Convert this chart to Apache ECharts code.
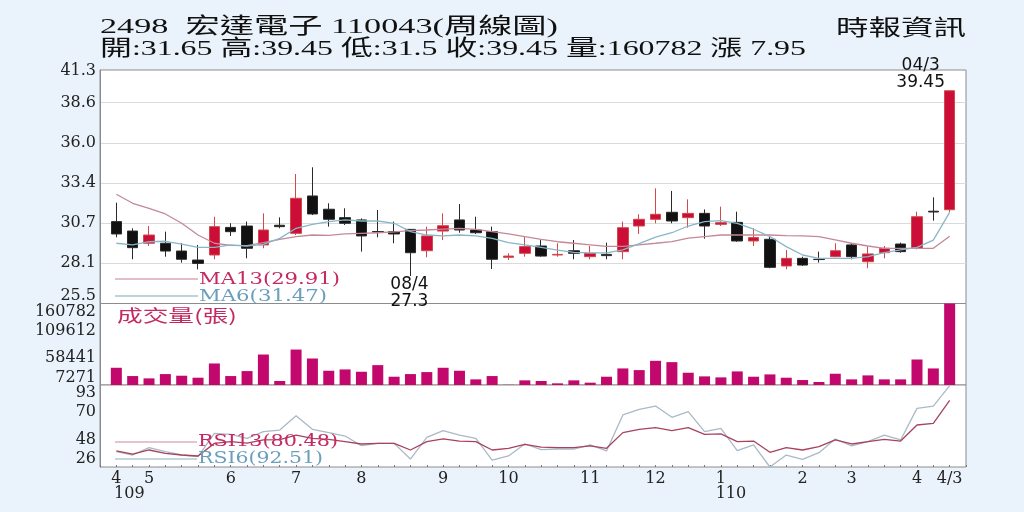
<!DOCTYPE html>
<html><head><meta charset="utf-8">
<script src="https://cdn.jsdelivr.net/npm/echarts@6/dist/echarts.min.js"></script>
<style>html,body{margin:0;padding:0;background:#eaf3fb;}#c{width:1024px;height:512px;}</style>
</head><body><div id="c"></div>
<script>
// ---------- data ----------
const stockCode = '2498';
const stockName = '宏達電子';
const weeks = [
 '109/04/3','109/04/4',
 '109/05/1','109/05/2','109/05/3','109/05/4','109/05/5',
 '109/06/1','109/06/2','109/06/3','109/06/4',
 '109/07/1','109/07/2','109/07/3','109/07/4',
 '109/08/1','109/08/2','109/08/3','109/08/4','109/08/5',
 '109/09/1','109/09/2','109/09/3','109/09/4',
 '109/10/1','109/10/2','109/10/3','109/10/4','109/10/5',
 '109/11/1','109/11/2','109/11/3','109/11/4',
 '109/12/1','109/12/2','109/12/3','109/12/4',
 '110/01/1','110/01/2','110/01/3','110/01/4','110/01/5',
 '110/02/1','110/02/2','110/02/3',
 '110/03/1','110/03/2','110/03/3','110/03/4',
 '110/04/1','110/04/2','110/04/3'
];
const xTickLabels = [
 '4','',
 '5','','','','',
 '6','','','',
 '7','','','',
 '8','','','','',
 '9','','','',
 '10','','','','',
 '11','','','',
 '12','','','',
 '1','','','','',
 '2','','',
 '3','','','',
 '4','','4/3'
];
const yearLabels = {0:'109', 37:'110'};

const open = [30.87,30.25,29.45,29.45,28.94,28.35,28.68,30.49,30.58,29.34,
 30.63,30.10,32.55,31.68,31.13,30.98,30.22,30.21,30.36,28.96,
 30.25,30.98,30.32,30.21,28.53,28.79,29.27,28.68,28.96,28.57,
 28.72,28.90,30.58,31.02,31.48,31.13,31.41,30.69,30.82,29.60,
 29.71,27.96,28.46,28.40,28.57,29.34,28.24,28.83,29.40,29.12,
 31.55,31.65];
const close = [30.06,29.16,29.99,28.94,28.40,28.13,30.54,30.21,29.12,30.32,
 30.54,32.40,31.37,31.02,30.76,29.93,30.18,30.06,28.83,29.93,
 30.60,30.32,30.14,28.40,28.61,29.23,28.61,28.72,28.79,28.79,
 28.64,30.47,31.02,31.35,30.91,31.41,30.58,30.80,29.60,29.82,
 27.87,28.46,28.02,28.38,28.96,28.57,28.75,29.12,28.90,31.19,
 31.50,39.45];
const low = [29.84,28.40,29.27,28.57,28.18,27.74,28.40,29.93,28.46,29.12,
 30.43,29.99,31.30,30.54,30.65,28.90,29.84,29.45,27.30,28.53,
 29.66,30.14,30.06,27.76,28.35,28.57,28.57,28.57,28.40,28.40,
 28.40,28.40,30.06,30.76,30.76,30.47,29.75,30.58,29.55,29.27,
 27.81,27.74,27.96,28.18,28.53,28.40,27.81,28.46,28.83,29.05,
 30.93,31.50];
const high = [32.11,30.43,30.58,30.21,29.45,29.34,31.19,30.76,30.87,31.41,
 31.15,33.99,34.43,32.07,31.74,31.08,31.63,30.87,30.36,30.54,
 31.41,32.02,31.19,30.54,28.79,29.88,29.66,29.45,29.66,29.27,
 29.49,30.87,31.35,33.05,32.88,32.33,31.67,31.85,31.52,30.43,
 29.88,29.01,28.57,28.90,29.45,29.45,29.23,29.27,29.49,31.52,
 32.46,39.45];
const ma13 = [32.66,32.07,31.74,31.37,30.76,29.99,29.45,29.31,29.29,29.49,
 29.71,29.88,29.99,29.97,30.06,30.10,30.14,30.19,30.28,30.32,
 30.38,30.43,30.36,30.21,30.06,29.88,29.71,29.55,29.45,29.35,
 29.25,29.25,29.35,29.45,29.56,29.78,29.89,29.99,29.99,29.99,
 29.99,29.95,29.93,29.89,29.67,29.45,29.27,29.12,29.12,29.12,
 29.12,29.91];
const ma6 = [29.45,29.34,29.55,29.58,29.40,29.18,29.18,29.34,29.27,29.38,
 29.77,30.43,30.69,30.87,30.98,30.91,30.91,30.76,30.21,29.99,
 29.93,29.99,29.93,29.77,29.49,29.34,29.18,29.00,28.85,28.82,
 28.82,29.02,29.42,29.85,30.14,30.58,30.87,30.93,30.76,30.37,
 29.89,29.23,28.68,28.46,28.46,28.46,28.57,28.83,29.01,29.18,
 29.66,31.47];
const volume = [39719,24119,19751,27863,24743,20999,47831,24119,33479,64679,
 14759,74039,57191,34103,36599,32231,44711,22871,27863,31607,
 39719,34103,17879,24119,7600,16007,14759,10391,16007,11639,
 22871,38471,35351,52823,50327,30359,23495,21623,32855,22871,
 27239,20999,16631,12887,28487,17879,25367,17879,17879,55319,
 38471,160782];
const rsi13 = [39.1,36.6,39.9,37.2,35.8,35.0,45.3,46.7,45.5,48.1,
 48.3,52.1,49.4,48.6,46.7,44.8,45.3,45.3,39.9,46.7,
 48.9,47.2,46.7,39.9,41.3,44.5,42.2,41.8,41.8,43.2,
 41.3,54.1,56.8,58.1,55.7,58.1,52.7,53.0,46.7,47.2,
 38.0,41.8,39.9,42.6,48.1,44.8,46.7,48.6,47.2,60.3,
 61.7,80.48];
const rsi6 = [38.5,35.8,41.8,38.5,35.8,34.4,53.5,52.7,49.4,54.9,
 56.2,67.9,56.8,54.1,51.3,43.4,45.3,45.3,32.5,50.2,
 55.7,52.1,49.4,31.7,35.0,44.8,40.2,40.7,40.7,44.0,
 39.1,68.5,73.1,75.8,66.6,71.2,54.9,57.6,39.3,44.0,
 26.0,35.8,32.3,37.7,48.9,43.2,46.7,52.1,48.1,73.9,
 75.8,92.51];

const priceRange = [25.5, 40.81];
const priceGridValues = [28.133, 30.767, 33.4, 36.033, 38.667];
const priceTickLabels = ['25.5','28.1','30.7','33.4','36.0','38.6','41.3'];
const volRange = [7271, 160782];
const volTickLabels = ['7271','58441','109612','160782'];
const rsiRange = [26, 93];
const rsiTickLabels = ['26','48','70','93'];

// ---------- layout (label anchor positions in axis units) ----------
const priceLabelPos = [25.99, 28.133, 30.767, 33.4, 36.033, 38.667, 40.75];
const volLabelPos = [20375, 58441, 109612, 145806];
const rsiLabelPos = [32.5, 48.33, 70.67, 86.5];

const N = weeks.length;
const last = N - 1;
const cats = ['pad0'].concat(weeks, ['pad1']);
const pad = a => ['-'].concat(a, ['-']);
const candles = [['-','-','-','-']].concat(weeks.map((w, i) => [open[i], close[i], low[i], high[i]]), [['-','-','-','-']]);

function pick(posArr, labels) {
  return v => { for (let i = 0; i < posArr.length; i++) if (Math.abs(posArr[i] - v) < 1e-6 * Math.max(1, Math.abs(v))) return labels[i]; return ''; };
}

const AX_FONT = 'DejaVu Serif';
const measureCtx = document.createElement('canvas').getContext('2d');
function fitText(text, font, target) { measureCtx.font = font; return target / measureCtx.measureText(text).width; }

const HEAD_FONT = '22px "Liberation Serif", "Noto Sans CJK TC", serif';
const LEG_FONT = '16px "DejaVu Serif", serif';
const title1 = `${stockCode}  ${stockName} ${weeks[last].split('/').join('')}(周線圖)`;
const title2 = `開:${open[last]} 高:${high[last]} 低:${low[last]} 收:${close[last]} 量:${volume[last]} 漲 ${(close[last]-close[last-1]).toFixed(2)}`;
const brand = '時報資訊';
const legMA13 = `MA13(${ma13[last].toFixed(2)})`;
const legMA6 = `MA6(${ma6[last].toFixed(2)})`;
const legR13 = `RSI13(${rsi13[last].toFixed(2)})`;
const legR6 = `RSI6(${rsi6[last].toFixed(2)})`;
const volTitle = '成交量(張)';
const VOL_FONT = '17px "Noto Sans CJK TC", sans-serif';

const C_MA13 = '#c48898', C_MA6 = '#88b6c8', C_R13 = '#a8425e', C_R6 = '#aab9c6';
const T_RED = '#c42a62', T_BLUE = '#6a9fbc';

function txt(text, x, y, font, color, target, align) {
  return { type:'text', x, y, z:100, scaleX: fitText(text, font, target),
    style:{ text, font, fill:color, align: align || 'left', verticalAlign:'middle' } };
}
function seg(x1, x2, y, color) {
  return { type:'line', z:99, shape:{x1, y1:y, x2, y2:y}, style:{stroke:color, lineWidth:1.3} };
}

const gridBase = {left:100, right:58, show:true, backgroundColor:'#fff', borderColor:'#8c8c8c', borderWidth:1, outerBoundsMode:'none', containLabel:false};
const hiddenX = g => ({type:'category', gridIndex:g, data:cats, boundaryGap:false, position:'bottom',
  axisLine:{show:false}, axisTick:{show:false}, axisLabel:{show:false}, splitLine:{show:false}});

const yLab = (pos, labels) => ({customValues:pos, formatter: pick(pos, labels), fontFamily:AX_FONT, fontSize:16, color:'#222', margin:4});

const option = {
  animation:false,
  backgroundColor:'#eaf3fb',
  grid:[
    Object.assign({top:70, height:233.5}, gridBase),
    Object.assign({top:303.5, height:81.5}, gridBase),
    Object.assign({top:385, height:82}, gridBase)
  ],
  xAxis:[
    hiddenX(0), hiddenX(1),
    Object.assign(hiddenX(2), {
      axisTick:{show:true, inside:true, interval:0, length:2, lineStyle:{color:'#777'}},
      axisLabel:{show:true, interval:0, margin:4, fontFamily:AX_FONT, fontSize:16, color:'#222',
        formatter:(v, i) => (i >= 1 && i <= N) ? xTickLabels[i-1] : ''}
    }),
    Object.assign(hiddenX(2), {
      axisLabel:{show:true, interval:0, margin:19, fontFamily:AX_FONT, fontSize:16, color:'#222',
        formatter:(v, i) => { const y = yearLabels[i-1]; return y ? (i-1 === 0 ? `{a|${y}}` : `{b|${y}}`) : ''; },
        rich:{ a:{fontFamily:AX_FONT, fontSize:16, color:'#222', padding:[0,0,0,26]},
               b:{fontFamily:AX_FONT, fontSize:16, color:'#222', padding:[0,0,0,20]} }}
    })
  ],
  yAxis:[
    {type:'value', gridIndex:0, min:priceRange[0], max:priceRange[1], scale:true,
     axisLine:{show:true, lineStyle:{color:'#8c8c8c'}},
     axisTick:{show:false, customValues:priceGridValues},
     axisLabel:yLab(priceLabelPos, priceTickLabels),
     splitLine:{show:true, lineStyle:{color:'#dadada', width:1}}},
    {type:'value', gridIndex:1, min:volRange[0], max:volRange[1],
     axisLine:{show:true, lineStyle:{color:'#8c8c8c'}},
     axisTick:{show:false, customValues:[]},
     axisLabel:yLab(volLabelPos, volTickLabels),
     splitLine:{show:false}},
    {type:'value', gridIndex:2, min:rsiRange[0], max:rsiRange[1],
     axisLine:{show:true, lineStyle:{color:'#8c8c8c'}},
     axisTick:{show:false, customValues:[]},
     axisLabel:yLab(rsiLabelPos, rsiTickLabels),
     splitLine:{show:false}}
  ],
  series:[
    {type:'candlestick', xAxisIndex:0, yAxisIndex:0, data:candles, barWidth:11,
     itemStyle:{color:'#cc0d38', color0:'#111111', borderColor:'#cf4a48', borderColor0:'#2a2a2a', borderWidth:1},
     markPoint:{symbol:'circle', symbolSize:0, silent:true,
       data:[
         {coord:[weeks[last], high[last]], label:{position:'top', distance:0, offset:[-29,0],
           formatter: weeks[last].slice(4) + '\n' + high[last].toFixed(2)}},
         {coord:[weeks[18], low[18]], label:{position:'bottom', distance:0, offset:[-1,0],
           formatter: weeks[18].slice(4) + '\n' + low[18]}}
       ],
       label:{show:true, color:'#111', fontFamily:'DejaVu Sans', fontSize:17, lineHeight:17, align:'center'}}},
    {type:'line', name:'MA13', xAxisIndex:0, yAxisIndex:0, data:pad(ma13), symbol:'none', lineStyle:{color:C_MA13, width:1.3}, z:3},
    {type:'line', name:'MA6', xAxisIndex:0, yAxisIndex:0, data:pad(ma6), symbol:'none', lineStyle:{color:C_MA6, width:1.3}, z:3},
    {type:'bar', xAxisIndex:1, yAxisIndex:1, data:pad(volume), barWidth:11, itemStyle:{color:'#c2086c'}},
    {type:'line', name:'RSI6', xAxisIndex:2, yAxisIndex:2, data:pad(rsi6), symbol:'none', lineStyle:{color:C_R6, width:1.3}},
    {type:'line', name:'RSI13', xAxisIndex:2, yAxisIndex:2, data:pad(rsi13), symbol:'none', lineStyle:{color:C_R13, width:1.3}}
  ],
  graphic:[
    txt(title1, 100, 27, HEAD_FONT, '#111', 458),
    txt(title2, 100, 49, HEAD_FONT, '#111', 706),
    txt(brand, 966, 29, HEAD_FONT, '#111', 130, 'right'),
    seg(115, 198, 279, '#d9a8b6'),
    txt(legMA13, 199, 280, LEG_FONT, T_RED, 141),
    seg(115, 198, 296, '#a9c6d2'),
    txt(legMA6, 199, 297, LEG_FONT, T_BLUE, 128),
    txt(volTitle, 117, 316, VOL_FONT, T_RED, 120),
    seg(115, 197, 442, '#dcb0bd'),
    txt(legR13, 198, 442, LEG_FONT, T_RED, 140),
    seg(115, 197, 459, '#b4c8d2'),
    txt(legR6, 198, 459, LEG_FONT, T_BLUE, 125)
  ]
};
const chart = echarts.init(document.getElementById('c'), null, {renderer:'canvas'});
chart.setOption(option);
</script>
</body></html>
